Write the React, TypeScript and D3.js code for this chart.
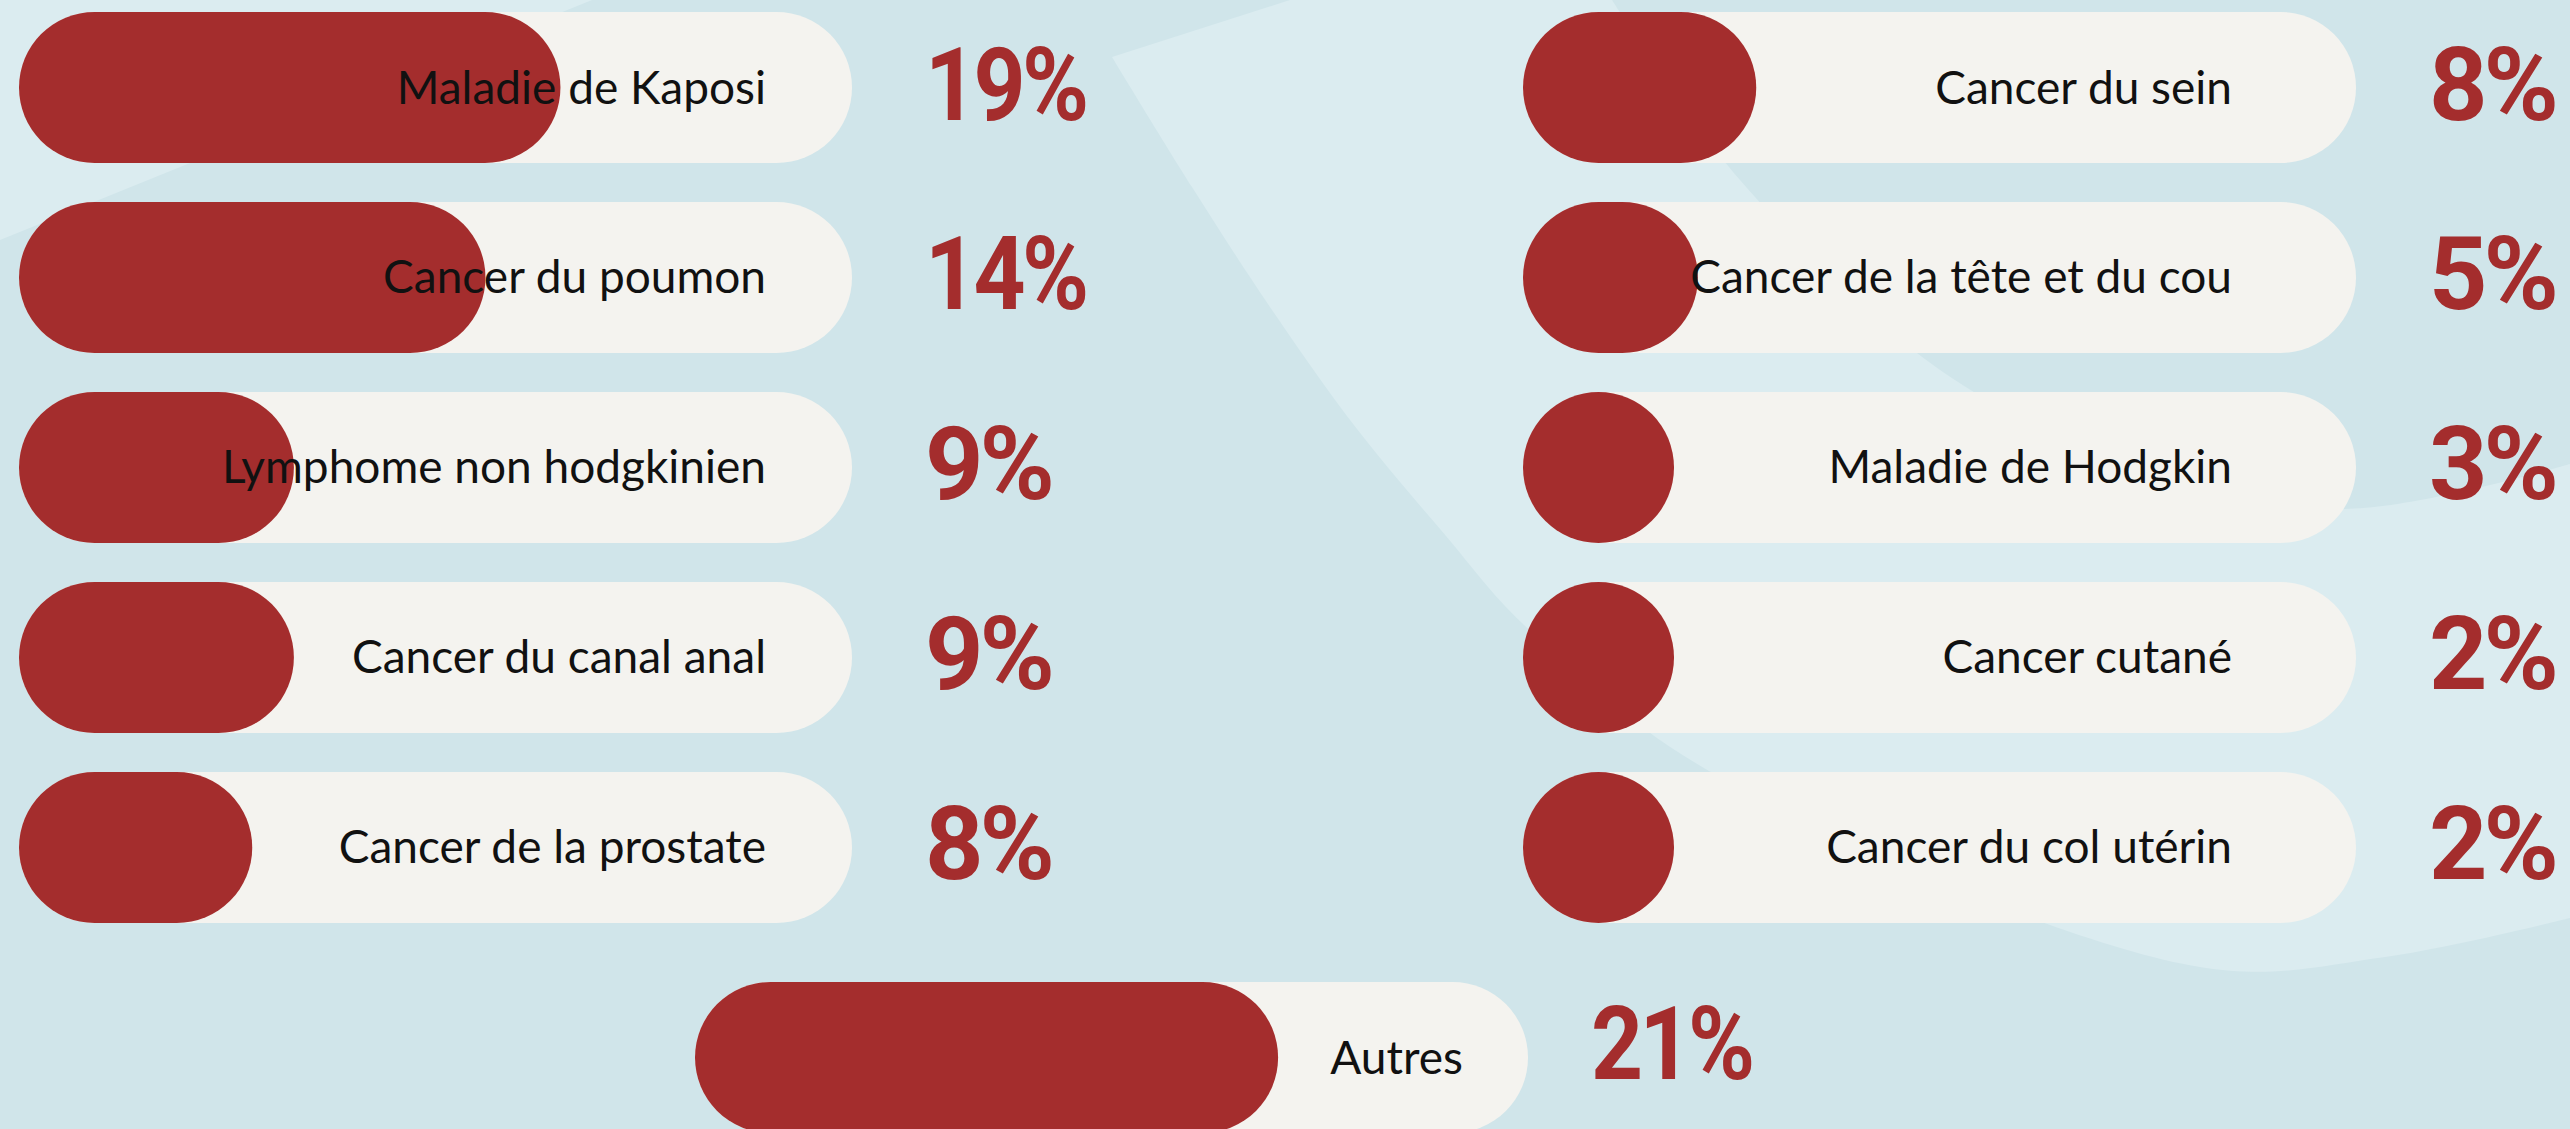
import React, { useEffect } from "react";
import * as d3 from "d3";

// ---- Data ----
const leftCategories = [
  "Maladie de Kaposi",
  "Cancer du poumon",
  "Lymphome non hodgkinien",
  "Cancer du canal anal",
  "Cancer de la prostate",
];
const leftValues = [19, 14, 9, 9, 8];
// share of the track that is filled in red (percent of track length)
const leftFill = [65, 56, 33, 33, 28];

const rightCategories = [
  "Cancer du sein",
  "Cancer de la tête et du cou",
  "Maladie de Hodgkin",
  "Cancer cutané",
  "Cancer du col utérin",
];
const rightValues = [8, 5, 3, 2, 2];
const rightFill = [28, 21, 18, 18, 18];

const otherCategories = ["Autres"];
const otherValues = [21];
const otherFill = [70];

// ---- Layout / style ----
const W = 2570;
const H = 1129;
const RED = "#a42d2d";
const TRACK = "#f4f3ef";
const BG = "#d0e5ea";
const BG_LIGHT = "#dbecf0";
const LABEL_FONT = "Lato, 'Open Sans', sans-serif";
const PCT_FONT = "Roboto, 'Liberation Sans', sans-serif";

const TRACK_W = 833;
const ROW_H = 151;

const rowY = d3
  .scaleBand<number>()
  .domain(d3.range(5))
  .range([12, 923])
  .paddingInner(0.205)
  .paddingOuter(0);

const fillX = d3.scaleLinear().domain([0, 100]).range([0, TRACK_W]);

type ColProps = {
  cats: string[];
  vals: number[];
  fills: number[];
  x0: number;
  yOf: (i: number) => number;
  labelOffset: number;
  pctOffset: number;
  pctDy: number;
};

function Column({ cats, vals, fills, x0, yOf, labelOffset, pctOffset, pctDy }: ColProps) {
  return (
    <g>
      {cats.map((c, i) => {
        const y = yOf(i);
        const cy = y + ROW_H / 2;
        const fw = Math.max(ROW_H, fillX(fills[i]));
        const pct = d3.format("d")(vals[i]) + "%";
        // the reference face has a narrow "1"; condense strings holding one
        const sx = pct.includes("1") ? 0.89 : 1;
        return (
          <g key={c}>
            <rect x={x0} y={y} width={TRACK_W} height={ROW_H} rx={ROW_H / 2} ry={ROW_H / 2} fill={TRACK} />
            <rect x={x0} y={y} width={fw} height={ROW_H} rx={ROW_H / 2} ry={ROW_H / 2} fill={RED} />
            <text
              x={x0 + TRACK_W - labelOffset}
              y={cy + 16}
              textAnchor="end"
              fontFamily={LABEL_FONT}
              fontSize={46}
              fill="#111"
            >
              {c}
            </text>
            <text
              transform={`translate(${x0 + TRACK_W + pctOffset},${cy + pctDy}) scale(${sx},1)`}
              textAnchor="start"
              fontFamily={PCT_FONT}
              fontWeight={700}
              fontSize={102}
              fill={RED}
              letterSpacing={-4}
            >
              {pct}
            </text>
          </g>
        );
      })}
    </g>
  );
}

export default function App() {
  useEffect(() => {
    document.body.style.margin = "0";
  }, []);

  const curve = d3.line().curve(d3.curveCatmullRom.alpha(0.5));
  const outerArc: [number, number][] = [
    [1612, 0],
    [1740, 180],
    [1940, 370],
    [2140, 468],
    [2344, 509],
    [2570, 464],
  ];
  const innerArc: [number, number][] = [
    [2570, 918],
    [2385, 957],
    [2200, 967],
    [1709, 771],
    [1522, 623],
    [1446, 536],
    [1357, 429],
    [1268, 304],
    [1192, 187],
    [1112, 57],
  ];
  const bandPath =
    curve(outerArc)! +
    "L" + W + "," + 464 +
    "L" + W + "," + 918 +
    curve(innerArc)!.replace(/^M/, "L") +
    "L1290,0Z";

  return (
    <svg width={W} height={H} viewBox={`0 0 ${W} ${H}`} style={{ display: "block" }}>
      <rect x={0} y={0} width={W} height={H} fill={BG} />
      <path d="M0,0L592,0L0,240Z" fill={BG_LIGHT} />
      <path d={bandPath} fill={BG_LIGHT} />

      <Column
        cats={leftCategories}
        vals={leftValues}
        fills={leftFill}
        x0={19}
        yOf={(i) => rowY(i)!}
        labelOffset={86}
        pctOffset={73}
        pctDy={32}
      />
      <Column
        cats={rightCategories}
        vals={rightValues}
        fills={rightFill}
        x0={1523}
        yOf={(i) => rowY(i)!}
        labelOffset={124}
        pctOffset={73}
        pctDy={32}
      />
      <Column
        cats={otherCategories}
        vals={otherValues}
        fills={otherFill}
        x0={695}
        yOf={() => 982}
        labelOffset={65}
        pctOffset={63}
        pctDy={21}
      />
    </svg>
  );
}
